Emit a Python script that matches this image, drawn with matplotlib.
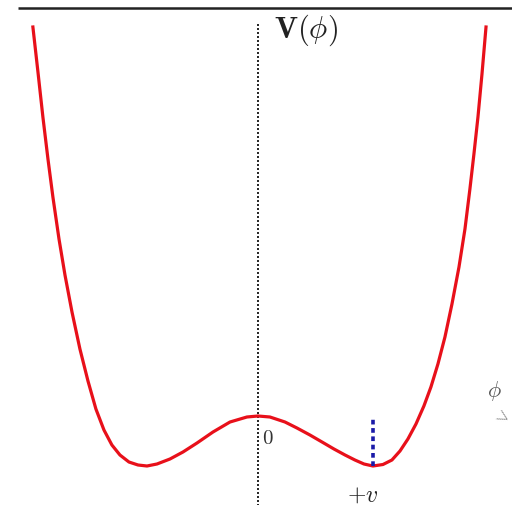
import numpy as np
import matplotlib
matplotlib.use("Agg")
from matplotlib import pyplot as plt

plt.rcParams['mathtext.fontset'] = 'cm'

#------------------------------------------------------------------------
#   data (phi in units of v, V in units of barrier)
#------------------------------------------------------------------------
phi = [-1.957, -1.913, -1.870, -1.826, -1.783, -1.730, -1.678, -1.617,
       -1.548, -1.478, -1.409, -1.339, -1.270, -1.200, -1.122, -1.043,
       -0.965, -0.878, -0.765, -0.652, -0.530, -0.391, -0.243, -0.096,
       0.0,
       0.104, 0.235, 0.339, 0.452, 0.557, 0.661, 0.757, 0.843, 0.922,
       1.000, 1.087, 1.165, 1.235, 1.304, 1.374, 1.443, 1.504, 1.565,
       1.626, 1.687, 1.748, 1.800, 1.843, 1.878, 1.913, 1.948, 1.983]
potential = [8.78, 7.88, 6.98, 6.14, 5.38, 4.54, 3.82, 3.08,
             2.34, 1.70, 1.14, 0.72, 0.42, 0.22, 0.08, 0.02,
             0.0, 0.04, 0.14, 0.28, 0.46, 0.68, 0.88, 0.98,
             1.0,
             0.98, 0.88, 0.76, 0.62, 0.48, 0.34, 0.22, 0.12, 0.04,
             0.0, 0.03, 0.12, 0.30, 0.54, 0.84, 1.20, 1.58, 2.04,
             2.58, 3.24, 3.98, 4.74, 5.54, 6.24, 6.98, 7.84, 8.78]

vev = 1.0          # position of the right minimum (+v)
vevHeight = 0.94   # height of the blue marker

#------------------------------------------------------------------------
#                               plot
#------------------------------------------------------------------------
fig = plt.figure(figsize=(5.12, 5.06), dpi=100)
ax = fig.add_axes([0, 0, 1, 1])
ax.set_xlim(-2.243, 2.209)
ax.set_ylim(-0.78, 9.34)
ax.axis('off')

#top rule
ax.plot([-2.087, 2.3], [9.16, 9.16], color='#222222', lw=1.8, solid_capstyle='butt')

#dotted axis through phi = 0
ax.plot([0, 0], [-1, 8.84], color='black', lw=1.2, linestyle=(0, (1.2, 1.2)))

#the potential
ax.plot(phi, potential, color='#e8101a', lw=2.3, solid_joinstyle='round')

#blue marker at +v
ax.plot([vev, vev], [0, vevHeight], color='#1a1aa8', lw=2.6, linestyle=(0, (1.3, 1.0)))

#labels
ax.text(0.417, 8.74, r'$\mathbf{V}(\phi)$', fontsize=22, ha='center', va='center', color='#222222')
ax.text(0.035, 0.58, r'$0$', fontsize=15, ha='left', va='center', color='#333333')
ax.text(0.913, -0.55, r'$+v$', fontsize=17, ha='center', va='center', color='#222222')
ax.text(2.06, 1.52, r'$\phi$', fontsize=16, ha='center', va='center', color='#555555')
ax.text(2.12, 1.02, r'$>$', fontsize=12, ha='center', va='center', color='#777777', rotation=-30)

plt.savefig('out.png', dpi=100)
